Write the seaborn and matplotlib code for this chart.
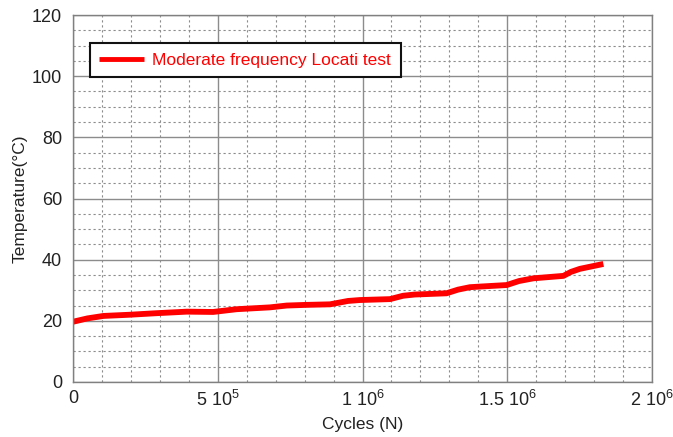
import matplotlib
matplotlib.use("Agg")
import matplotlib.pyplot as plt
import seaborn as sns
import numpy as np
import pandas as pd
from matplotlib.ticker import MultipleLocator, FixedLocator, FixedFormatter

# ---- data ----
cycles = [0, 0.05e6, 0.105e6, 0.197e6, 0.289e6, 0.393e6, 0.484e6, 0.565e6, 0.68e6,
          0.738e6, 0.80e6, 0.888e6, 0.95e6, 0.991e6, 1.095e6, 1.14e6, 1.18e6, 1.29e6,
          1.33e6, 1.371e6, 1.406e6, 1.498e6, 1.54e6, 1.59e6, 1.694e6, 1.72e6, 1.751e6,
          1.832e6]
temperature = [19.7, 20.8, 21.6, 22.0, 22.5, 23.0, 22.9, 23.8, 24.4,
               25.0, 25.2, 25.4, 26.5, 26.8, 27.1, 28.2, 28.6, 29.0,
               30.2, 31.0, 31.2, 31.7, 33.0, 33.9, 34.7, 36.0, 37.0,
               38.6]
series_label = "Moderate frequency Locati test"
xtick_values = [0, 5e5, 1e6, 1.5e6, 2e6]
xtick_labels = ["0", r"$\mathregular{5\ 10^{5}}$", r"$\mathregular{1\ 10^{6}}$",
                r"$\mathregular{1.5\ 10^{6}}$", r"$\mathregular{2\ 10^{6}}$"]
ytick_values = [0, 20, 40, 60, 80, 100, 120]

sns.set_style("white")
plt.rcParams["font.family"] = ["Liberation Sans", "DejaVu Sans"]
plt.rcParams["mathtext.fontset"] = "custom"
plt.rcParams["mathtext.rm"] = "Liberation Sans"
plt.rcParams["mathtext.it"] = "Liberation Sans:italic"

df = pd.DataFrame({"Cycles": cycles, "Temperature": temperature})

fig = plt.figure(figsize=(6.73, 4.37), dpi=100)
ax = fig.add_axes([73/673, (437-382)/437, 579/673, 367/437])

sns.lineplot(data=df, x="Cycles", y="Temperature", ax=ax, color="#ff0000",
             linewidth=4.2, label=series_label, solid_capstyle="butt")

ax.set_xlim(0, 2e6)
ax.set_ylim(0, 120)
ax.xaxis.set_major_locator(FixedLocator(xtick_values))
ax.xaxis.set_major_formatter(FixedFormatter(xtick_labels))
ax.xaxis.set_minor_locator(MultipleLocator(1e5))
ax.yaxis.set_major_locator(FixedLocator(ytick_values))
ax.yaxis.set_minor_locator(MultipleLocator(5))

ax.grid(which="major", color="#8c8c8c", linewidth=1.0, linestyle="-")
ax.grid(which="minor", color="#8c8c8c", linewidth=0.8, linestyle=(0, (2, 2.5)))
ax.set_axisbelow(True)
ax.tick_params(which="both", length=0, labelsize=13, colors="#222222")
ax.tick_params(axis="y", pad=8)
ax.tick_params(axis="x", pad=6)
for s in ax.spines.values():
    s.set_color("#808080")
    s.set_linewidth(1.0)

ax.set_xlabel("Cycles (N)", fontsize=12.5, color="#222222", labelpad=5)
ax.set_ylabel("Temperature(°C)", fontsize=12.5, color="#222222", labelpad=3)

leg = ax.legend(loc="upper left", bbox_to_anchor=(0.029, 0.924), borderaxespad=0,
                fontsize=12.5, frameon=True, fancybox=False, handlelength=2.6,
                borderpad=0.55, handletextpad=0.45)
leg.get_frame().set_edgecolor("#111111")
leg.get_frame().set_linewidth(1.5)
leg.get_frame().set_alpha(1)
for t in leg.get_texts():
    t.set_color("#ff0000")
for h in leg.get_lines():
    h.set_linewidth(3.5)

fig.savefig("out.png", dpi=100)
